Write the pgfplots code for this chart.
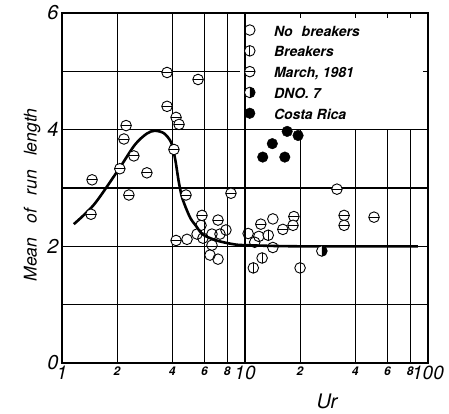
\documentclass[border=0pt]{standalone}
\usepackage{pgfplots}
\pgfplotsset{compat=1.18}
\usepackage{fontspec}
\setmainfont{TeX Gyre Heros}

% circle marks with a vertical / horizontal bar, and a half-filled one
\pgfdeclareplotmark{vcirc}{%
  \pgfpathcircle{\pgfpointorigin}{\pgfplotmarksize}\pgfusepathqfillstroke
  \pgfpathmoveto{\pgfqpoint{0pt}{\pgfplotmarksize}}%
  \pgfpathlineto{\pgfqpoint{0pt}{-\pgfplotmarksize}}\pgfusepathqstroke}
\pgfdeclareplotmark{hcirc}{%
  \pgfpathcircle{\pgfpointorigin}{\pgfplotmarksize}\pgfusepathqfillstroke
  \pgfpathmoveto{\pgfqpoint{\pgfplotmarksize}{0pt}}%
  \pgfpathlineto{\pgfqpoint{-\pgfplotmarksize}{0pt}}\pgfusepathqstroke}
\pgfdeclareplotmark{halfcirc}{%
  \pgfpathcircle{\pgfpointorigin}{\pgfplotmarksize}\pgfusepathqfillstroke
  \pgfscope
  \pgfsetfillcolor{black}%
  \pgfpathmoveto{\pgfqpoint{0pt}{\pgfplotmarksize}}%
  \pgfpatharc{90}{-90}{\pgfplotmarksize}\pgfpathclose\pgfusepathqfill
  \endpgfscope}

\newcommand\tb[1]{{\fontsize{19bp}{19bp}\selectfont\itshape #1}}
\newcommand\ts[1]{{\fontsize{12bp}{12bp}\selectfont\bfseries\itshape #1}}
\newcommand\ty[1]{{\fontsize{20bp}{20bp}\selectfont\itshape #1}}

\pgfplotsset{
  pts/.style={only marks, mark size=5.3bp,
    mark options={fill=white, draw=black, line width=0.9bp, solid},
    legend image code/.code={\draw[##1] plot coordinates {(0bp,2.5bp)};}},
}
\tikzset{gridl/.style={black, line width=1.1bp}}

\begin{document}
\begin{tikzpicture}
\begin{axis}[name=ax, scale only axis, width=366bp, height=350bp,
  xmode=log, xmin=1, xmax=100, ymin=0, ymax=6,
  xtick={1,2,4,6,8,10,20,40,60,80,100},
  xticklabels={\tb{1},\ts{2},\ts{4},\ts{6},\ts{8},\tb{10},\ts{2},\ts{4},\ts{6},\ts{8},\tb{100}},
  minor xtick={},
  ytick={0,1,2,3,4,5,6}, yticklabels={\ty{0},,\ty{2},,\ty{4},,\ty{6}},
  tick align=inside, major tick length=5bp,
  tick style={black, line width=1bp},
  axis line style={line width=1.6bp},
  xticklabel style={anchor=north},
  xlabel={\fontsize{20bp}{20bp}\selectfont\itshape Ur},
  xlabel style={at={(ticklabel cs:0.724)}, anchor=north, yshift=-7bp},
  ylabel={\fontsize{17.5bp}{17.5bp}\selectfont\itshape Mean\hspace{14bp}of\hspace{14bp}run\hspace{14bp}length},
  ylabel style={at={(ticklabel cs:0.48)}},
  legend style={at={(axis description cs:0.498,0.967)}, anchor=north west,
    draw=none, fill=none, inner sep=0pt,
    font=\fontsize{14bp}{16bp}\selectfont\bfseries\itshape,
    nodes={inner sep=0pt, text height=11bp, text depth=4bp},
    row sep=5.5bp,
    /tikz/every odd column/.append style={column sep=19bp}},
  legend cell align=left,
]
% grid, kept out of the legend corner
\pgfplotsinvokeforeach{2,4,6,8,10}{\draw[gridl] (axis cs:#1,0) -- (axis cs:#1,6);}
\pgfplotsinvokeforeach{20,40,60,80}{\draw[gridl] (axis cs:#1,0) -- (axis cs:#1,4);}
\pgfplotsinvokeforeach{1,2,3,4}{\draw[gridl] (axis cs:1,#1) -- (axis cs:100,#1);}
\draw[gridl] (axis cs:1,5) -- (axis cs:9.4,5);

\addplot[black, line width=2.6bp, smooth, tension=0.5, forget plot] coordinates {
 (1.16,2.38)(1.5,2.72)(2.05,3.33)(2.5,3.74)(2.9,3.93)(3.2,3.98)(3.6,3.94)
 (3.95,3.78)(4.15,3.5)(4.35,3.1)(4.55,2.82)(5.0,2.5)(5.4,2.35)(5.9,2.2)
 (7.0,2.1)(8.5,2.04)(10,2.02)(20,2.0)(88,2.0)};

\addplot[pts, mark=o] coordinates {
 (4.82,2.12)(5.47,2.21)(5.75,2.36)(5.89,2.14)(6.60,2.21)(7.30,2.21)(7.87,2.28)
 (6.60,2.02)(6.44,1.85)(7.12,1.78)(10.4,2.22)(11.3,2.07)(11.9,2.17)(14.2,2.47)(14.2,1.98)};
\addlegendentry{No\hspace{9bp}breakers}
\addplot[pts, mark=vcirc] coordinates {
 (13.4,2.19)(12.4,1.80)(11.1,1.63)(20.0,1.63)};
\addlegendentry{Breakers}
\addplot[pts, mark=hcirc] coordinates {
 (3.75,4.98)(5.54,4.86)(3.75,4.40)(4.20,4.21)(4.36,4.09)(2.24,4.07)(2.18,3.84)
 (4.09,3.66)(2.47,3.55)(2.07,3.33)(2.91,3.26)(1.46,3.14)(2.32,2.88)(4.76,2.88)
 (8.38,2.91)(1.44,2.55)(5.82,2.53)(7.12,2.45)(4.20,2.10)(12.2,2.38)(18.5,2.51)
 (18.3,2.36)(16.1,2.29)(31.8,2.98)(34.8,2.53)(34.8,2.36)(50.7,2.50)};
\addlegendentry{March, 1981}
\addplot[pts, mark=halfcirc] coordinates {(26.3,1.92)};
\addlegendentry{DNO. 7}
\addplot[pts, mark=*, mark options={fill=black}] coordinates {
 (12.5,3.53)(14.1,3.76)(16.5,3.53)(17.0,3.97)(19.5,3.90)};
\addlegendentry{Costa Rica}
\end{axis}
\pgfresetboundingbox
\path ([shift={(-62bp,-51bp)}]ax.south west) rectangle ([shift={(21bp,13bp)}]ax.north east);
\end{tikzpicture}
\end{document}
